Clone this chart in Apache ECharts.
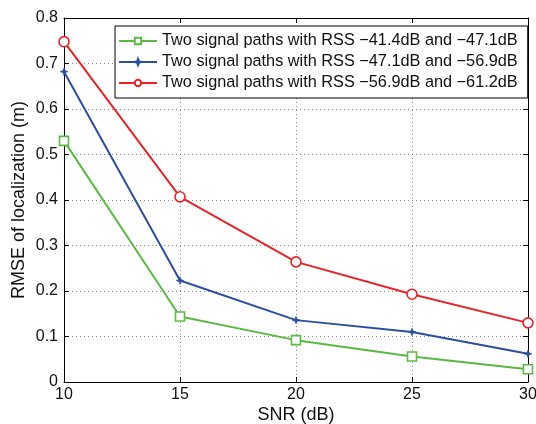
<!DOCTYPE html>
<html><head><meta charset="utf-8">
<script src="https://cdn.jsdelivr.net/npm/echarts@6/dist/echarts.min.js"></script>
<style>html,body{margin:0;padding:0;background:#fff}#c{width:536px;height:424px}</style>
</head><body><div id="c"></div>
<script>
const snr = [10, 15, 20, 25, 30];
const names = [
  'Two signal paths with RSS \u221241.4dB and \u221247.1dB',
  'Two signal paths with RSS \u221247.1dB and \u221256.9dB',
  'Two signal paths with RSS \u221256.9dB and \u221261.2dB'
];
const green = [0.530, 0.144, 0.092, 0.056, 0.028];
const blue = [0.682, 0.223, 0.136, 0.110, 0.062];
const red = [0.748, 0.407, 0.264, 0.193, 0.130];
const xTicks = [10, 15, 20, 25, 30];
const yTicks = [0, 0.1, 0.2, 0.3, 0.4, 0.5, 0.6, 0.7, 0.8];

const font = 'Liberation Sans, Arial, Helvetica, sans-serif';
const pair = arr => snr.map((x, i) => [x, arr[i]]);
const star = 'path://M0,-1 L0.28,-0.28 L1,0 L0.28,0.28 L0,1 L-0.28,0.28 L-1,0 L-0.28,-0.28 Z';

const chart = echarts.init(document.getElementById('c'), null, {renderer: 'canvas'});
const axisCommon = {
  axisLine: {show: true, onZero: false, lineStyle: {color: '#000', width: 1}},
  axisTick: {show: true, inside: true, length: 5, lineStyle: {color: '#000'}},
};
chart.setOption({
  animation: false,
  backgroundColor: '#fff',
  grid: {left: 64, right: 8, top: 18, bottom: 42, containLabel: false, outerBoundsMode: 'none'},
  legend: {
    orient: 'vertical', left: 115, top: 26,
    backgroundColor: '#fff', borderColor: '#000', borderWidth: 1, borderRadius: 0,
    padding: [7, 10, 7, 3], itemGap: 5, itemWidth: 38, itemHeight: 8,
    textStyle: {fontFamily: font, fontSize: 16.3, color: '#111'},
    data: names
  },
  xAxis: [
    Object.assign({type: 'value', min: 10, max: 30, interval: 5, position: 'bottom',
      name: 'SNR (dB)', nameLocation: 'middle', nameGap: 24, nameMoveOverlap: false,
      nameTextStyle: {fontFamily: font, fontSize: 18, color: '#111'},
      axisLabel: {fontFamily: font, fontSize: 16, color: '#111', margin: 5},
      splitLine: {show: true, lineStyle: {color: '#888', type: [1, 3], width: 1}}}, axisCommon),
    Object.assign({type: 'value', min: 10, max: 30, interval: 5, position: 'top',
      axisLabel: {show: false}, splitLine: {show: false}}, axisCommon)
  ],
  yAxis: [
    Object.assign({type: 'value', min: 0, max: 0.8, interval: 0.1, position: 'left',
      name: 'RMSE of localization (m)', nameLocation: 'middle', nameGap: 36, nameMoveOverlap: false,
      nameTextStyle: {fontFamily: font, fontSize: 18, color: '#111'},
      axisLabel: {fontFamily: font, fontSize: 16, color: '#111', margin: 6,
        formatter: v => (Math.round(v * 10) / 10).toString()},
      splitLine: {show: true, lineStyle: {color: '#888', type: [1, 3], width: 1}}}, axisCommon),
    Object.assign({type: 'value', min: 0, max: 0.8, interval: 0.1, position: 'right',
      axisLabel: {show: false}, splitLine: {show: false}}, axisCommon)
  ],
  series: [
    {name: names[0], type: 'line', data: pair(green), symbol: 'rect', symbolSize: 9,
     lineStyle: {color: '#5cb946', width: 2}, itemStyle: {color: '#fff', borderColor: '#5cb946', borderWidth: 1.6}},
    {name: names[1], type: 'line', data: pair(blue), symbol: star, symbolSize: 8,
     lineStyle: {color: '#2c4e9f', width: 2}, itemStyle: {color: '#2c4e9f', borderColor: '#2c4e9f', borderWidth: 0.5}},
    {name: names[2], type: 'line', data: pair(red), symbol: 'circle', symbolSize: 10,
     lineStyle: {color: '#ea2328', width: 2}, itemStyle: {color: '#fff', borderColor: '#ea2328', borderWidth: 1.6}}
  ]
});
</script></body></html>
